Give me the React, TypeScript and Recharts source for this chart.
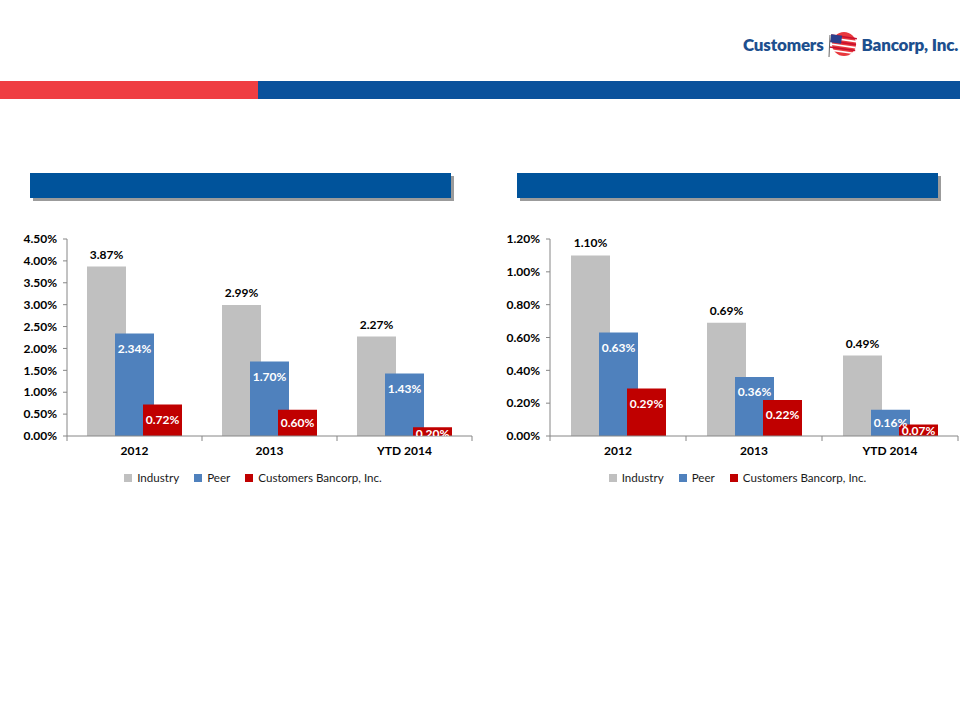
import React from "react";
import {
  BarChart,
  Bar,
  XAxis,
  YAxis,
  Legend,
  LabelList,
} from "recharts";

const CATEGORIES = ["2012", "2013", "YTD 2014"];

// left panel
const LEFT_INDUSTRY = [3.87, 2.99, 2.27];
const LEFT_PEER = [2.34, 1.7, 1.43];
const LEFT_CUBI = [0.72, 0.6, 0.2];
const LEFT_TICKS = [0, 0.5, 1, 1.5, 2, 2.5, 3, 3.5, 4, 4.5];

// right panel
const RIGHT_INDUSTRY = [1.1, 0.69, 0.49];
const RIGHT_PEER = [0.63, 0.36, 0.16];
const RIGHT_CUBI = [0.29, 0.22, 0.07];
const RIGHT_TICKS = [0, 0.2, 0.4, 0.6, 0.8, 1, 1.2];

const SERIES = ["Industry", "Peer", "Customers Bancorp, Inc."];
const COLORS = ["#C0C0C0", "#4F81BD", "#C00000"];

const FONT = "Lato, 'Open Sans', sans-serif";
const AXIS_GRAY = "#868686";

const pct = (v: number) => `${v.toFixed(2)}%`;

function InsideLabel(props: any) {
  const vb = props.viewBox ?? props;
  const x = Number(vb.x ?? props.x);
  const y = Number(vb.y ?? props.y);
  const w = Number(vb.width ?? props.width);
  const h = Number(vb.height ?? props.height);
  const value = Number(props.value);
  const center = Math.min(15, Math.max(h / 2, 6));
  const id = `clip-${Math.round(x)}-${Math.round(y)}`;
  return (
    <g>
      <defs>
        <clipPath id={id}>
          <rect x={x - 10} y={y - 5} width={w + 20} height={h + 5} />
        </clipPath>
      </defs>
      <text
        x={x + w / 2}
        y={y + center}
        dy="0.36em"
        textAnchor="middle"
        fill="#FFFFFF"
        fontSize={12}
        fontWeight={700}
        fontFamily={FONT}
        clipPath={`url(#${id})`}
      >
        {pct(value)}
      </text>
    </g>
  );
}

function CategoryTick({ x, y, payload, index, band }: any) {
  const left = x - band / 2;
  return (
    <g>
      <line x1={left} y1={y - 8} x2={left} y2={y - 3} stroke={AXIS_GRAY} />
      {index === CATEGORIES.length - 1 && (
        <line
          x1={left + band}
          y1={y - 8}
          x2={left + band}
          y2={y - 3}
          stroke={AXIS_GRAY}
        />
      )}
      <text
        x={x}
        y={y + 11}
        textAnchor="middle"
        fontSize={12}
        fontWeight={700}
        fontFamily={FONT}
        fill="#000"
      >
        {payload.value}
      </text>
    </g>
  );
}

function LegendBox() {
  return (
    <div
      style={{
        display: "flex",
        justifyContent: "center",
        fontFamily: FONT,
        fontSize: 11.6,
        color: "#1a1a1a",
        lineHeight: "16px",
        paddingLeft: 42,
        paddingTop: 4,
      }}
    >
      {SERIES.map((s, i) => (
        <span
          key={s}
          style={{ display: "flex", alignItems: "center", marginRight: 15 }}
        >
          <span
            style={{
              width: 8,
              height: 8,
              background: COLORS[i],
              marginRight: 5,
              display: "inline-block",
            }}
          />
          {s}
        </span>
      ))}
    </div>
  );
}

interface PanelProps {
  industry: number[];
  peer: number[];
  cubi: number[];
  ticks: number[];
  left: number;
  marginLeft: number;
  marginRight: number;
}

function Panel({
  industry,
  peer,
  cubi,
  ticks,
  left,
  marginLeft,
  marginRight,
}: PanelProps) {
  const data = CATEGORIES.map((c, i) => ({
    name: c,
    industry: industry[i],
    peer: peer[i],
    cubi: cubi[i],
  }));
  const width = 480;
  const band = (width - marginLeft - 60 - marginRight) / CATEGORIES.length;
  const max = ticks[ticks.length - 1];
  return (
    <div style={{ position: "absolute", left, top: 200 }}>
      <BarChart
        width={width}
        height={300}
        data={data}
        barSize={39}
        barGap={-11}
        margin={{ top: 39, right: marginRight, left: marginLeft, bottom: 14 }}
      >
        <XAxis
          dataKey="name"
          height={30}
          stroke={AXIS_GRAY}
          tickLine={false}
          tick={<CategoryTick band={band} />}
        />
        <YAxis
          width={60}
          domain={[0, max]}
          ticks={ticks}
          interval={0}
          tickFormatter={pct}
          stroke={AXIS_GRAY}
          tickSize={4}
          tickMargin={6}
          tick={{
            fill: "#000",
            fontSize: 12,
            fontWeight: 700,
            fontFamily: FONT,
          }}
        />
        <Legend verticalAlign="bottom" content={<LegendBox />} />
        <Bar dataKey="industry" fill={COLORS[0]} isAnimationActive={false}>
          <LabelList
            dataKey="industry"
            position="top"
            offset={8}
            formatter={(v: any) => pct(Number(v))}
            fill="#000"
            fontSize={12}
            fontWeight={700}
            fontFamily={FONT}
          />
        </Bar>
        <Bar dataKey="peer" fill={COLORS[1]} isAnimationActive={false}>
          <LabelList dataKey="peer" content={<InsideLabel />} />
        </Bar>
        <Bar dataKey="cubi" fill={COLORS[2]} isAnimationActive={false}>
          <LabelList dataKey="cubi" content={<InsideLabel />} />
        </Bar>
      </BarChart>
    </div>
  );
}

function Logo() {
  const text = {
    fontFamily: FONT,
    fontWeight: 800,
    fontSize: 17,
    color: "#1D4F8E",
    letterSpacing: -0.2,
    whiteSpace: "nowrap",
  } as const;
  return (
    <div
      style={{
        position: "absolute",
        left: 743,
        top: 29,
        display: "flex",
        alignItems: "center",
        whiteSpace: "nowrap",
      }}
    >
      <span style={text}>Customers</span>
      <svg width={36} height={30} style={{ margin: "0 1px", flexShrink: 0 }}>
        <circle cx={19} cy={15} r={12} fill="#E8383D" />
        <g transform="rotate(8 18 15)">
          {[0, 1, 2, 3, 4, 5].map((k) => (
            <rect
              key={k}
              x={5}
              y={7 + k * 3}
              width={26}
              height={1.6}
              fill={k % 2 === 0 ? "#C8102E" : "#FFFFFF"}
            />
          ))}
          <rect x={5} y={7} width={11} height={8} fill="#2B3F8C" />
        </g>
        <line x1={5} y1={6} x2={4} y2={28} stroke="#666" strokeWidth={1} />
      </svg>
      <span style={text}>Bancorp, Inc.</span>
    </div>
  );
}

export default function App() {
  return (
    <div
      style={{
        position: "absolute",
        left: 0,
        top: 0,
        width: 960,
        height: 720,
        background: "#FFFFFF",
        overflow: "hidden",
      }}
    >
      <Logo />
      <div
        style={{
          position: "absolute",
          left: 0,
          top: 81,
          width: 258,
          height: 18,
          background: "#EF3E42",
        }}
      />
      <div
        style={{
          position: "absolute",
          left: 258,
          top: 81,
          width: 702,
          height: 18,
          background: "#0A519C",
        }}
      />
      <div
        style={{
          position: "absolute",
          left: 30,
          top: 173,
          width: 421,
          height: 25,
          background: "#00539B",
          boxShadow: "3px 3px 0 #9B9B9B",
        }}
      />
      <div
        style={{
          position: "absolute",
          left: 517,
          top: 173,
          width: 421,
          height: 25,
          background: "#00539B",
          boxShadow: "3px 3px 0 #9B9B9B",
        }}
      />
      <Panel
        industry={LEFT_INDUSTRY}
        peer={LEFT_PEER}
        cubi={LEFT_CUBI}
        ticks={LEFT_TICKS}
        left={0}
        marginLeft={7}
        marginRight={8}
      />
      <Panel
        industry={RIGHT_INDUSTRY}
        peer={RIGHT_PEER}
        cubi={RIGHT_CUBI}
        ticks={RIGHT_TICKS}
        left={480}
        marginLeft={10}
        marginRight={2}
      />
    </div>
  );
}
